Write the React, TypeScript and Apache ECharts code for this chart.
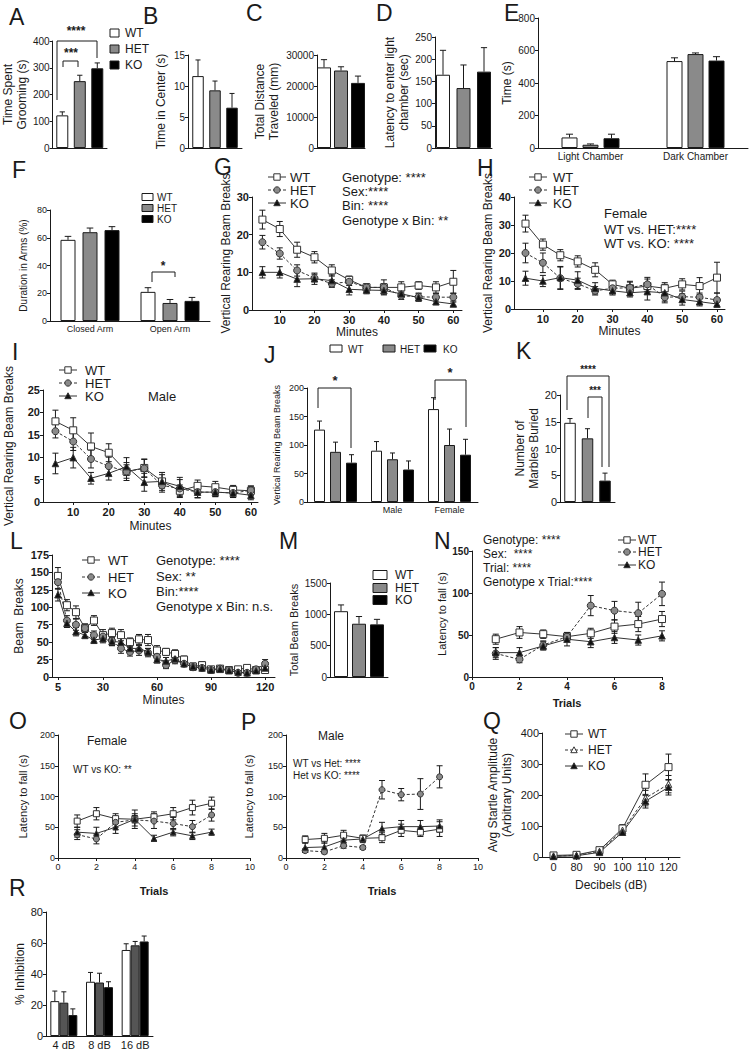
import React, { useEffect, useRef } from 'react';
import * as echarts from 'echarts';

const FONT = '"Liberation Sans", Arial, Helvetica, sans-serif';
const INK = '#1a1a1a';
const GENO = ['WT', 'HET', 'KO'];
const BAR_FILLS = ['#ffffff', '#8a8a8a', '#000000'];
const BAR_FILLS_R = ['#ffffff', '#555555', '#000000'];

// ---------- DATA ----------
// A
const aMean = [122, 250, 298];
const aErr = [13, 22, 20];
// B
const bMean = [11.6, 9.3, 6.5];
const bErr = [2.6, 1.5, 2.3];
// C
const cMean = [26000, 25000, 21000];
const cErr = [2500, 1200, 2200];
// D
const dMean = [165, 135, 172];
const dErr = [55, 52, 54];
// E
const eCats = ['Light Chamber', 'Dark Chamber'];
const eWT = [65, 535];
const eHET = [20, 578];
const eKO = [60, 538];
const eWTe = [20, 20];
const eHETe = [5, 7];
const eKOe = [25, 24];
// F
const fCats = ['Closed Arm', 'Open Arm'];
const fWT = [58.5, 21];
const fHET = [64, 13];
const fKO = [65.5, 14.5];
const fWTe = [2.5, 3];
const fHETe = [3, 2.5];
const fKOe = [2.5, 2.5];
// G, H, I minutes
const MIN12 = [5, 10, 15, 20, 25, 30, 35, 40, 45, 50, 55, 60];
const gWT = [24, 21.5, 16, 14, 10.5, 8, 6, 6, 6, 6.5, 6, 7.5];
const gWTe = [2.5, 2, 2, 1.5, 1.5, 1, 1, 1, 1.5, 1, 1.5, 3];
const gHET = [18, 15, 10.5, 8.5, 7, 7.5, 6, 6, 3.8, 3.5, 3.4, 3.4];
const gHETe = [1.8, 1.5, 1.5, 1, 1, 1, 0.8, 2, 1, 1, 1, 1];
const gKO = [10, 10, 8.2, 8.3, 7.8, 5.5, 5.3, 5.2, 4.3, 3.3, 2.2, 1.6];
const gKOe = [1.5, 1.5, 2, 1.5, 1.5, 1.5, 1, 1, 1, 1, 0.8, 0.5];

const hWT = [30.5, 23, 19.2, 17, 14, 8.8, 7.4, 8.2, 7.4, 8.8, 8.2, 11.2];
const hWTe = [3, 2, 2, 2, 2.5, 1.5, 2.5, 2.5, 2, 2, 3, 5.5];
const hHET = [20, 16.5, 11, 9, 6.5, 7.4, 7.6, 8.8, 4.2, 4.4, 4.2, 3.2];
const hHETe = [3.5, 3.5, 4, 2, 1.5, 1.5, 2, 2.5, 2, 2, 1.5, 2.5];
const hKO = [11, 10, 11.2, 10.3, 7.4, 6.5, 5.8, 6.2, 5.8, 3.4, 2.6, 1.8];
const hKOe = [2.5, 2, 4, 3, 2, 1.5, 1.5, 3, 3, 2, 1.5, 1];

const iWT = [18, 16, 12.4, 11, 6.8, 7.6, 4.6, 2.5, 3.6, 3.3, 2.7, 2.5];
const iWTe = [2.5, 2.8, 3, 2, 2, 2, 2, 1.3, 1.3, 1.3, 1, 1];
const iHET = [15.8, 13.5, 9.6, 8, 6.8, 7.5, 3.7, 3, 2.2, 2.2, 2, 2.6];
const iHETe = [1.5, 2, 2, 2, 1.5, 2, 1.5, 2, 1.3, 1, 1, 1];
const iKO = [8.6, 9.9, 5.3, 6.4, 7.9, 4.4, 4.6, 3.5, 2.2, 2.2, 2, 1.5];
const iKOe = [2.3, 2.3, 1.3, 1.5, 2, 2, 1.5, 2, 1.2, 1, 1, 1];
// J
const jCats = ['', 'Male', 'Female'];
const jWT = [127, 90, 163];
const jHET = [88, 75, 100];
const jKO = [69, 57, 83];
const jWTe = [15, 16, 20];
const jHETe = [17, 11, 28];
const jKOe = [14, 15, 27];
// K
const kMean = [14.8, 11.9, 4.0];
const kErr = [0.8, 1.8, 1.4];
// L
const MIN24 = [5, 10, 15, 20, 25, 30, 35, 40, 45, 50, 55, 60, 65, 70, 75, 80, 85, 90, 95, 100, 105, 110, 115, 120];
const lWT = [145, 103, 93, 70, 81, 60, 63, 60, 50, 54, 53, 38, 36, 33, 25, 15, 17, 11, 12, 10, 11, 13, 10, 10];
const lWTe = [12, 8, 9, 6, 7, 8, 7, 8, 6, 7, 8, 7, 5, 6, 5, 5, 5, 4, 4, 4, 4, 4, 5, 5];
const lHET = [136, 81, 75, 70, 60, 58, 52, 41, 36, 38, 35, 29, 17, 24, 19, 14, 13, 10, 12, 10, 6, 6, 11, 19];
const lHETe = [10, 7, 8, 6, 6, 7, 7, 7, 6, 7, 6, 6, 5, 5, 4, 4, 4, 3, 4, 3, 3, 3, 4, 6];
const lKO = [118, 77, 65, 60, 53, 55, 51, 50, 41, 41, 36, 25, 23, 26, 19, 15, 13, 10, 11, 9, 7, 6, 9, 13];
const lKOe = [9, 6, 6, 5, 5, 6, 6, 6, 5, 5, 5, 5, 5, 4, 4, 4, 3, 3, 3, 3, 3, 3, 3, 4];
// M
const mMean = [1050, 850, 840];
const mErr = [100, 115, 80];
// N, O, P
const TRIALS = [1, 2, 3, 4, 5, 6, 7, 8];
const nWT = [45, 53, 51, 48, 52, 60, 63, 69];
const nWTe = [6, 7, 5, 5, 6, 8, 9, 9];
const nHET = [28, 21, 38, 48, 85, 79, 76, 99];
const nHETe = [7, 4, 5, 5, 12, 11, 13, 14];
const nKO = [29, 29, 37, 45, 42, 47, 44, 49];
const nKOe = [6, 6, 5, 8, 7, 7, 6, 6];

const oWT = [60, 72, 64, 63, 67, 72, 82, 89];
const oWTe = [10, 10, 8, 6, 8, 10, 12, 10];
const oHET = [38, 31, 58, 62, 60, 56, 51, 70];
const oHETe = [8, 8, 8, 10, 12, 10, 10, 10];
const oKO = [42, 40, 50, 63, 32, 42, 36, 42];
const oKOe = [8, 10, 10, 15, 5, 6, 6, 5];

const pWT = [30, 32, 37, 32, 33, 45, 42, 47];
const pWTe = [6, 8, 8, 5, 8, 10, 7, 12];
const pHET = [12, 10, 20, 17, 111, 103, 104, 132];
const pHETe = [3, 3, 4, 3, 15, 10, 25, 18];
const pKO = [17, 18, 29, 31, 48, 51, 51, 52];
const pKOe = [8, 8, 8, 6, 10, 10, 10, 10];
// Q
const DB = ['0', '80', '90', '100', '110', '120'];
const qWT = [5, 7, 22, 92, 233, 290];
const qWTe = [3, 3, 5, 12, 35, 42];
const qHET = [3, 5, 18, 86, 190, 235];
const qHETe = [2, 2, 4, 10, 25, 28];
const qKO = [2, 4, 15, 80, 180, 225];
const qKOe = [2, 2, 4, 10, 22, 25];
// R
const rCats = ['4 dB', '8 dB', '16 dB'];
const rWT = [22.5, 35, 55.5];
const rWTe = [6.5, 6, 4];
const rHET = [21.5, 34.5, 58.5];
const rHETe = [7, 6, 2.5];
const rKO = [13.5, 31.5, 61];
const rKOe = [4, 3.5, 3.5];

// ---------- HELPERS ----------
type Opt = { grid: any[]; xAxis: any[]; yAxis: any[]; series: any[]; graphic: any[] };

const plain = (v: any) => String(v);

function errRender(off: number, up: boolean, down: boolean, cap: number) {
  return (params: any, api: any) => {
    const x = api.value(0);
    const y = api.value(1);
    const e = api.value(2);
    const p = api.coord([x, y]);
    const hi = api.coord([x, y + e]);
    const lo = api.coord([x, y - e]);
    const cx = p[0] + off;
    const st = { stroke: INK, lineWidth: 1 };
    const children: any[] = [
      { type: 'line', shape: { x1: cx, y1: up ? hi[1] : p[1], x2: cx, y2: down ? lo[1] : p[1] }, style: st },
    ];
    if (up) children.push({ type: 'line', shape: { x1: cx - cap, y1: hi[1], x2: cx + cap, y2: hi[1] }, style: st });
    if (down) children.push({ type: 'line', shape: { x1: cx - cap, y1: lo[1], x2: cx + cap, y2: lo[1] }, style: st });
    return { type: 'group', children };
  };
}

function yAxisCfg(gi: number, max: number, interval: number, name: string, nameGap: number, nameSize: number, labelSize: number, bold = false) {
  return {
    gridIndex: gi,
    type: 'value',
    min: 0,
    max,
    interval,
    name,
    nameLocation: 'middle',
    nameGap,
    nameTextStyle: { fontSize: nameSize, fontFamily: FONT, color: INK, fontWeight: 'normal', lineHeight: Math.round(nameSize * 1.15) },
    axisLine: { show: true, lineStyle: { color: INK, width: 1 } },
    axisTick: { show: true, length: 3, lineStyle: { color: INK, width: 1 } },
    axisLabel: { fontSize: labelSize, fontFamily: FONT, color: INK, margin: 3, fontWeight: bold ? 'bold' : 'normal', formatter: plain },
    splitLine: { show: false },
  };
}

type BarCfg = {
  l: number; t: number; w: number; h: number;
  cats: string[]; vals: number[][]; errs: number[][];
  yMax: number; yInt: number; yName: string; nameGap: number; nameSize: number; labelSize: number;
  barW: number; gap: number; fills?: string[]; catSize?: number;
};

function barPanel(o: Opt, c: BarCfg) {
  const gi = o.grid.length;
  o.grid.push({ left: c.l, top: c.t, width: c.w, height: c.h, containLabel: false });
  const showCats = c.cats.some((s) => s !== '');
  o.xAxis.push({
    gridIndex: gi,
    type: 'category',
    data: c.cats,
    axisLine: { show: true, onZero: false, lineStyle: { color: INK, width: 1 } },
    axisTick: { show: false },
    axisLabel: { show: showCats, interval: 0, fontSize: c.catSize || 9, fontFamily: FONT, color: INK, margin: 3 },
    splitLine: { show: false },
  });
  o.yAxis.push(yAxisCfg(gi, c.yMax, c.yInt, c.yName, c.nameGap, c.nameSize, c.labelSize));
  const fills = c.fills || BAR_FILLS;
  c.vals.forEach((vals, k) => {
    o.series.push({
      type: 'bar',
      name: GENO[k],
      xAxisIndex: gi,
      yAxisIndex: gi,
      data: vals,
      barWidth: c.barW,
      barGap: `${(c.gap / c.barW) * 100}%`,
      itemStyle: { color: fills[k], borderColor: INK, borderWidth: 1 },
      z: 2,
    });
  });
  c.errs.forEach((errs, k) => {
    const off = (k - 1) * (c.barW + c.gap);
    o.series.push({
      type: 'custom',
      name: GENO[k] + ' SEM',
      xAxisIndex: gi,
      yAxisIndex: gi,
      encode: { x: 0, y: 1 },
      data: errs.map((e, i) => [i, c.vals[k][i], e]),
      renderItem: errRender(off, true, false, Math.max(2.5, c.barW * 0.22)),
      z: 3,
      silent: true,
    });
  });
}

type LineCfg = {
  l: number; t: number; w: number; h: number;
  xs: any[]; vals: number[][]; errs: number[][];
  xMin?: number; xMax?: number; xInt?: number; xCustom?: number[]; xCat?: boolean;
  xName: string; xNameGap: number; xNameSize: number; xNameBold?: boolean;
  yMax: number; yInt: number; yName: string; nameGap: number; nameSize: number; labelSize: number; bold?: boolean;
  symSize: number; hetOpenTri?: boolean;
};

const SYMS = ['rect', 'circle', 'triangle'];

function linePanel(o: Opt, c: LineCfg) {
  const gi = o.grid.length;
  o.grid.push({ left: c.l, top: c.t, width: c.w, height: c.h, containLabel: false });
  const lbl: any = { fontSize: c.labelSize, fontFamily: FONT, color: INK, margin: 4, fontWeight: c.bold ? 'bold' : 'normal', formatter: plain };
  const tick: any = { show: true, length: 3, lineStyle: { color: INK, width: 1 } };
  if (c.xCustom) {
    lbl.customValues = c.xCustom;
    tick.customValues = c.xCustom;
  }
  const xa: any = {
    gridIndex: gi,
    name: c.xName,
    nameLocation: 'middle',
    nameGap: c.xNameGap,
    nameTextStyle: { fontSize: c.xNameSize, fontFamily: FONT, color: INK, fontWeight: c.xNameBold ? 'bold' : 'normal' },
    axisLine: { show: true, onZero: false, lineStyle: { color: INK, width: 1 } },
    axisTick: tick,
    axisLabel: lbl,
    splitLine: { show: false },
  };
  if (c.xCat) {
    xa.type = 'category';
    xa.data = c.xs;
    xa.boundaryGap = true;
    xa.axisTick = { show: true, length: 3, alignWithLabel: true, interval: 0, lineStyle: { color: INK } };
    xa.axisLabel = { fontSize: c.labelSize, fontFamily: FONT, color: INK, margin: 4, interval: 0 };
  } else {
    xa.type = 'value';
    xa.min = c.xMin;
    xa.max = c.xMax;
    if (c.xInt) xa.interval = c.xInt;
  }
  o.xAxis.push(xa);
  o.yAxis.push(yAxisCfg(gi, c.yMax, c.yInt, c.yName, c.nameGap, c.nameSize, c.labelSize, c.bold));
  const fills = ['#ffffff', c.hetOpenTri ? '#ffffff' : '#8a8a8a', '#111111'];
  const syms = c.hetOpenTri ? ['rect', 'triangle', 'triangle'] : SYMS;
  c.vals.forEach((vals, k) => {
    const data = c.xCat ? vals.map((v, i) => [i, v]) : vals.map((v, i) => [c.xs[i], v]);
    o.series.push({
      type: 'line',
      name: GENO[k],
      xAxisIndex: gi,
      yAxisIndex: gi,
      data,
      symbol: syms[k],
      symbolSize: syms[k] === 'triangle' ? c.symSize - 0.5 : c.symSize,
      showAllSymbol: true,
      lineStyle: { color: '#333333', width: 1, type: k === 1 ? [3, 2] : 'solid' },
      itemStyle: { color: fills[k], borderColor: '#333333', borderWidth: 1 },
      z: 3,
    });
  });
  c.errs.forEach((errs, k) => {
    o.series.push({
      type: 'custom',
      name: GENO[k] + ' SEM',
      xAxisIndex: gi,
      yAxisIndex: gi,
      encode: { x: 0, y: 1 },
      data: errs.map((e, i) => [c.xCat ? i : c.xs[i], c.vals[k][i], e]),
      renderItem: errRender(0, true, true, 3),
      z: 2,
      silent: true,
    });
  });
}

function txt(o: Opt, s: string, x: number, y: number, size: number, opts: any = {}) {
  o.graphic.push({
    type: 'text',
    x,
    y,
    silent: true,
    style: {
      text: s,
      fontSize: size,
      fontFamily: FONT,
      fontWeight: opts.bold ? 'bold' : 'normal',
      fill: INK,
      textAlign: opts.align || 'left',
      align: opts.align || 'left',
      textVerticalAlign: 'middle',
      verticalAlign: 'middle',
    },
  });
}

function poly(o: Opt, pts: number[][]) {
  o.graphic.push({ type: 'polyline', silent: true, shape: { points: pts }, style: { stroke: INK, fill: null, lineWidth: 1 } });
}

function barLegend(o: Opt, x: number, ys: number[], bw: number, bh: number, tx: number, size: number, fills = BAR_FILLS) {
  ys.forEach((y, k) => {
    o.graphic.push({ type: 'rect', silent: true, shape: { x, y: y - bh / 2, width: bw, height: bh }, style: { fill: fills[k], stroke: INK, lineWidth: 1 } });
    txt(o, GENO[k], tx, y, size);
  });
}

function markerShape(kind: string, x: number, y: number, fill: string, r = 3.2) {
  const style = { fill, stroke: '#333333', lineWidth: 1 };
  if (kind === 'rect') return { type: 'rect', silent: true, shape: { x: x - r, y: y - r, width: 2 * r, height: 2 * r }, style };
  if (kind === 'circle') return { type: 'circle', silent: true, shape: { cx: x, cy: y, r }, style };
  return { type: 'polygon', silent: true, shape: { points: [[x, y - r], [x + r, y + r - 0.5], [x - r, y + r - 0.5]] }, style };
}

function lineLegend(o: Opt, x: number, ys: number[], tx: number, size: number, hetOpenTri = false) {
  const syms = hetOpenTri ? ['rect', 'triangle', 'triangle'] : SYMS;
  const fills = ['#ffffff', hetOpenTri ? '#ffffff' : '#8a8a8a', '#111111'];
  ys.forEach((y, k) => {
    o.graphic.push({
      type: 'line', silent: true,
      shape: { x1: x - 9, y1: y, x2: x + 9, y2: y },
      style: { stroke: '#333333', lineWidth: 1, lineDash: k === 1 ? [3, 2] : null },
    });
    o.graphic.push(markerShape(syms[k], x, y, fills[k]));
    txt(o, GENO[k], tx, y, size);
  });
}

// ---------- OPTION ----------
function buildOption() {
  const o: Opt = { grid: [], xAxis: [], yAxis: [], series: [], graphic: [] };

  // A
  barPanel(o, { l: 50, t: 41, w: 57, h: 107, cats: [''], vals: [[aMean[0]], [aMean[1]], [aMean[2]]], errs: [[aErr[0]], [aErr[1]], [aErr[2]]],
    yMax: 400, yInt: 100, yName: 'Time Spent\nGrooming (s)', nameGap: 23, nameSize: 12, labelSize: 10, barW: 12, gap: 5.5 });
  // B
  barPanel(o, { l: 188, t: 55, w: 54, h: 93, cats: [''], vals: [[bMean[0]], [bMean[1]], [bMean[2]]], errs: [[bErr[0]], [bErr[1]], [bErr[2]]],
    yMax: 15, yInt: 5, yName: 'Time in Center (s)', nameGap: 20, nameSize: 12, labelSize: 10, barW: 11.5, gap: 5.5 });
  // C
  barPanel(o, { l: 317, t: 55, w: 48, h: 93, cats: [''], vals: [[cMean[0]], [cMean[1]], [cMean[2]]], errs: [[cErr[0]], [cErr[1]], [cErr[2]]],
    yMax: 30000, yInt: 10000, yName: 'Total Distance\nTraveled (mm)', nameGap: 36, nameSize: 12, labelSize: 10, barW: 14, gap: 3 });
  // D
  barPanel(o, { l: 435, t: 37, w: 57, h: 111, cats: [''], vals: [[dMean[0]], [dMean[1]], [dMean[2]]], errs: [[dErr[0]], [dErr[1]], [dErr[2]]],
    yMax: 250, yInt: 50, yName: 'Latency to enter light\nchamber (sec)', nameGap: 24, nameSize: 12, labelSize: 10, barW: 14, gap: 6.5 });
  // E
  barPanel(o, { l: 538, t: 18, w: 210, h: 130, cats: eCats, vals: [eWT, eHET, eKO], errs: [eWTe, eHETe, eKOe],
    yMax: 800, yInt: 200, yName: 'Time (s)', nameGap: 17, nameSize: 12, labelSize: 10, barW: 16, gap: 5, catSize: 10 });
  // F
  barPanel(o, { l: 50, t: 210, w: 160, h: 111, cats: fCats, vals: [fWT, fHET, fKO], errs: [fWTe, fHETe, fKOe],
    yMax: 80, yInt: 20, yName: 'Duration in Arms (%)', nameGap: 21, nameSize: 10, labelSize: 9, barW: 15, gap: 7, catSize: 9 });
  // G
  linePanel(o, { l: 252, t: 197, w: 210, h: 113, xs: MIN12, vals: [gWT, gHET, gKO], errs: [gWTe, gHETe, gKOe],
    xMin: 2, xMax: 62.5, xCustom: [10, 20, 30, 40, 50, 60], xName: 'Minutes', xNameGap: 15, xNameSize: 12,
    yMax: 30, yInt: 10, yName: 'Vertical Rearing Beam Breaks', nameGap: 11, nameSize: 12, labelSize: 11, bold: true, symSize: 7 });
  // H
  linePanel(o, { l: 514, t: 197, w: 211, h: 112, xs: MIN12, vals: [hWT, hHET, hKO], errs: [hWTe, hHETe, hKOe],
    xMin: 1.7, xMax: 62.3, xCustom: [10, 20, 30, 40, 50, 60], xName: 'Minutes', xNameGap: 15, xNameSize: 12,
    yMax: 40, yInt: 10, yName: 'Vertical Rearing Beam Breaks', nameGap: 15, nameSize: 12, labelSize: 11, bold: true, symSize: 7 });
  // I
  linePanel(o, { l: 43, t: 390, w: 215, h: 112, xs: MIN12, vals: [iWT, iHET, iKO], errs: [iWTe, iHETe, iKOe],
    xMin: 1.5, xMax: 62, xCustom: [10, 20, 30, 40, 50, 60], xName: 'Minutes', xNameGap: 18, xNameSize: 12,
    yMax: 25, yInt: 5, yName: 'Vertical Rearing Beam Breaks', nameGap: 27, nameSize: 12, labelSize: 11, bold: true, symSize: 7 });
  // J
  barPanel(o, { l: 307, t: 388, w: 171, h: 114, cats: jCats, vals: [jWT, jHET, jKO], errs: [jWTe, jHETe, jKOe],
    yMax: 200, yInt: 50, yName: 'Vertical Rearing Beam Breaks', nameGap: 25, nameSize: 9, labelSize: 9, barW: 11, gap: 5, catSize: 9 });
  // K
  barPanel(o, { l: 560, t: 395, w: 55, h: 107, cats: [''], vals: [[kMean[0]], [kMean[1]], [kMean[2]]], errs: [[kErr[0]], [kErr[1]], [kErr[2]]],
    yMax: 20, yInt: 5, yName: 'Number of\nMarbles Buried', nameGap: 14, nameSize: 12, labelSize: 11, barW: 11.5, gap: 6 });
  // L
  linePanel(o, { l: 52, t: 555, w: 223, h: 122, xs: MIN24, vals: [lWT, lHET, lKO], errs: [lWTe, lHETe, lKOe],
    xMin: 1.7, xMax: 125.5, xCustom: [5, 30, 60, 90, 120], xName: 'Minutes', xNameGap: 17, xNameSize: 12,
    yMax: 175, yInt: 25, yName: 'Beam  Breaks', nameGap: 26, nameSize: 12, labelSize: 11, bold: true, symSize: 7 });
  // M
  barPanel(o, { l: 330, t: 583, w: 58, h: 94, cats: [''], vals: [[mMean[0]], [mMean[1]], [mMean[2]]], errs: [[mErr[0]], [mErr[1]], [mErr[2]]],
    yMax: 1500, yInt: 500, yName: 'Total Beam Breaks', nameGap: 29, nameSize: 11, labelSize: 10, barW: 14, gap: 4 });
  // N
  linePanel(o, { l: 472, t: 551, w: 190, h: 126, xs: TRIALS, vals: [nWT, nHET, nKO], errs: [nWTe, nHETe, nKOe],
    xMin: 0, xMax: 8, xInt: 2, xName: 'Trials', xNameGap: 20, xNameSize: 11, xNameBold: true,
    yMax: 150, yInt: 50, yName: 'Latency to fall (s)', nameGap: 20, nameSize: 11, labelSize: 10, bold: true, symSize: 7 });
  // O
  linePanel(o, { l: 58, t: 735, w: 192, h: 123, xs: TRIALS, vals: [oWT, oHET, oKO], errs: [oWTe, oHETe, oKOe],
    xMin: 0, xMax: 10, xInt: 2, xName: 'Trials', xNameGap: 27, xNameSize: 11, xNameBold: true,
    yMax: 200, yInt: 50, yName: 'Latency to fall (s)', nameGap: 29, nameSize: 11, labelSize: 9, symSize: 6 });
  // P
  linePanel(o, { l: 286, t: 735, w: 192, h: 123, xs: TRIALS, vals: [pWT, pHET, pKO], errs: [pWTe, pHETe, pKOe],
    xMin: 0, xMax: 10, xInt: 2, xName: 'Trials', xNameGap: 27, xNameSize: 11, xNameBold: true,
    yMax: 200, yInt: 50, yName: 'Latency to fall (s)', nameGap: 31, nameSize: 11, labelSize: 9, symSize: 6 });
  // Q
  linePanel(o, { l: 542, t: 733, w: 138, h: 124, xs: DB, xCat: true, vals: [qWT, qHET, qKO], errs: [qWTe, qHETe, qKOe],
    xName: 'Decibels (dB)', xNameGap: 22, xNameSize: 12,
    yMax: 400, yInt: 100, yName: 'Avg Startle Amplitude\n(Arbitrary Units)', nameGap: 28, nameSize: 12, labelSize: 11, symSize: 7, hetOpenTri: true });
  // R
  barPanel(o, { l: 46, t: 912, w: 107, h: 126, cats: rCats, vals: [rWT, rHET, rKO], errs: [rWTe, rHETe, rKOe],
    yMax: 80, yInt: 20, yName: '% Inhibition', nameGap: 18, nameSize: 12, labelSize: 11, barW: 9, gap: 0, fills: BAR_FILLS_R, catSize: 11 });

  // ---- panel letters ----
  const letters: [string, number, number][] = [
    ['A', 9, 17], ['B', 143, 16], ['C', 246, 13], ['D', 376, 13], ['E', 504, 13],
    ['F', 12, 170], ['G', 214, 167], ['H', 477, 168],
    ['I', 12, 352], ['J', 264, 355], ['K', 516, 351],
    ['L', 10, 541], ['M', 279, 541], ['N', 434, 541],
    ['O', 9, 721], ['P', 241, 722], ['Q', 483, 721], ['R', 9, 888],
  ];
  letters.forEach(([s, x, y]) => txt(o, s, x, y, 23));

  // ---- legends ----
  barLegend(o, 110, [33, 49, 65], 9, 8, 125, 12);
  barLegend(o, 142, [197, 208, 219], 11, 7, 157, 10);
  barLegend(o, 373, [575, 588, 600], 14, 9, 395, 12);
  // J horizontal legend
  [[330, 348], [383, 400], [424, 443]].forEach(([bx, tx], k) => {
    o.graphic.push({ type: 'rect', silent: true, shape: { x: bx, y: 345, width: 12, height: 7 }, style: { fill: BAR_FILLS[k], stroke: INK, lineWidth: 1 } });
    txt(o, GENO[k], tx, 349, 10);
  });
  lineLegend(o, 277, [177, 190, 203], 290, 13);
  lineLegend(o, 538, [177, 190, 203], 553, 13);
  lineLegend(o, 68, [370, 383, 396], 85, 13);
  lineLegend(o, 91, [560, 577, 593], 108, 13);
  lineLegend(o, 627, [540, 552, 565], 638, 12);
  lineLegend(o, 574, [734, 750, 766], 588, 12, true);

  // ---- annotations ----
  ['Genotype: ****', 'Sex:****', 'Bin: ****', 'Genotype x Bin: **'].forEach((s, i) => txt(o, s, 342, [177, 191, 205, 220][i], 13));
  ['Female', 'WT vs. HET:****', 'WT vs. KO: ****'].forEach((s, i) => txt(o, s, 604, [213, 229, 243][i], 13));
  txt(o, 'Male', 148, 396, 13);
  ['Genotype: ****', 'Sex: **', 'Bin:****', 'Genotype x Bin: n.s.'].forEach((s, i) => txt(o, s, 156, [560, 576, 591, 606][i], 13));
  ['Genotype: ****', 'Sex:  ****', 'Trial: ****', 'Genotype x Trial:****'].forEach((s, i) => txt(o, s, 483, [540, 554, 568, 582][i], 12));
  txt(o, 'Female', 87, 741, 12);
  txt(o, 'WT vs KO: **', 73, 769, 10);
  txt(o, 'Male', 318, 736, 12);
  txt(o, 'WT vs Het: ****', 293, 763, 10);
  txt(o, 'Het vs KO: ****', 293, 775, 10);

  // ---- significance brackets ----
  poly(o, [[57, 100], [57, 41], [97, 41], [97, 58]]);
  txt(o, '****', 76, 31, 12, { align: 'center', bold: true });
  poly(o, [[63, 67], [63, 61], [78, 61], [78, 67]]);
  txt(o, '***', 71, 53, 12, { align: 'center', bold: true });
  poly(o, [[152, 282], [152, 272], [175, 272], [175, 277]]);
  txt(o, '*', 163, 266, 12, { align: 'center', bold: true });
  poly(o, [[318, 408], [318, 388], [351, 388], [351, 448]]);
  txt(o, '*', 335, 380, 13, { align: 'center', bold: true });
  poly(o, [[435, 400], [435, 380], [466, 380], [466, 427]]);
  txt(o, '*', 450, 372, 13, { align: 'center', bold: true });
  poly(o, [[567, 410], [567, 376], [609, 376], [609, 467]]);
  txt(o, '****', 588, 369, 10, { align: 'center', bold: true });
  poly(o, [[588, 418], [588, 397], [602, 397], [602, 467]]);
  txt(o, '***', 595, 390, 10, { align: 'center', bold: true });

  return {
    animation: false,
    backgroundColor: '#ffffff',
    textStyle: { fontFamily: FONT, color: INK },
    grid: o.grid,
    xAxis: o.xAxis,
    yAxis: o.yAxis,
    series: o.series,
    graphic: o.graphic,
  };
}

export default function App() {
  const ref = useRef<HTMLDivElement>(null);
  useEffect(() => {
    if (!ref.current) return;
    const chart = echarts.init(ref.current, null, { renderer: 'svg' });
    chart.setOption(buildOption() as any);
    return () => chart.dispose();
  }, []);
  return (
    <div
      ref={ref}
      style={{ position: 'absolute', left: 0, top: 0, width: 749, height: 1050, background: '#ffffff' }}
    />
  );
}
